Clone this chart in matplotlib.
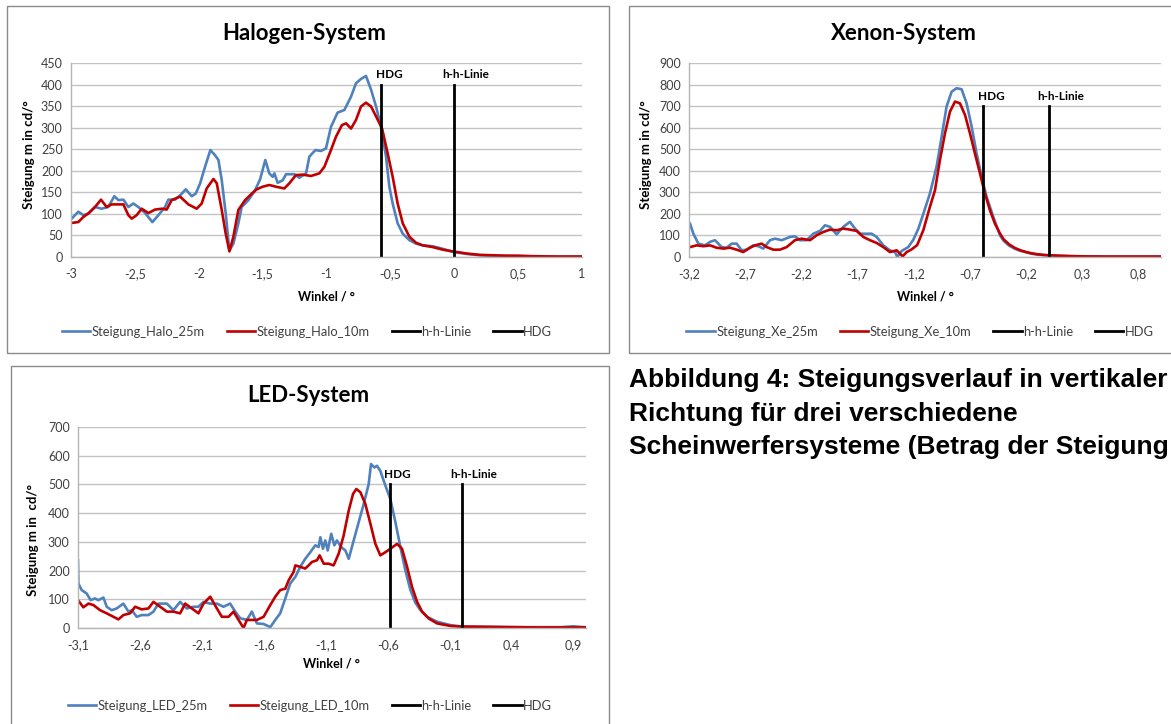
import matplotlib
matplotlib.use('Agg')
import matplotlib.pyplot as plt
from matplotlib.patches import Rectangle

# ---------------- data ----------------
HALO_25_X = [-2.995, -2.943, -2.903, -2.864, -2.812, -2.760, -2.708, -2.661, -2.629, -2.590,
             -2.551, -2.512, -2.473, -2.420, -2.363, -2.316, -2.264, -2.238, -2.186, -2.146,
             -2.102, -2.055, -2.024, -1.990, -1.951, -1.909, -1.872, -1.846, -1.820, -1.789,
             -1.760, -1.729, -1.690, -1.664, -1.611, -1.559, -1.520, -1.479, -1.448, -1.421,
             -1.408, -1.382, -1.343, -1.317, -1.252, -1.213, -1.160, -1.134, -1.087, -1.043,
             -1.004, -0.965, -0.913, -0.860, -0.808, -0.769, -0.730, -0.691, -0.651, -0.612,
             -0.573, -0.534, -0.508, -0.482, -0.443, -0.403, -0.351, -0.299, -0.247, -0.169,
             -0.090, -0.012, 0.1, 0.2, 0.3, 0.5, 0.7, 1.0]
HALO_25_Y = [89, 105, 97, 101, 116, 112, 116, 141, 132, 133,
             116, 124, 116, 102, 81, 97, 116, 133, 133, 143,
             157, 141, 147, 170, 209, 248, 236, 225, 178, 101,
             15, 31, 78, 116, 132, 155, 180, 225, 194, 186,
             194, 172, 178, 192, 192, 184, 194, 233, 248, 246,
             252, 302, 335, 341, 372, 403, 413, 420, 388, 349,
             302, 233, 163, 124, 78, 54, 39, 31, 27, 25,
             19, 12, 7, 4, 3, 2, 1, 1]

HALO_10_X = [-2.995, -2.943, -2.903, -2.864, -2.812, -2.765, -2.721, -2.682, -2.629, -2.590,
             -2.551, -2.525, -2.486, -2.447, -2.394, -2.342, -2.290, -2.251, -2.212, -2.146,
             -2.081, -2.016, -1.977, -1.938, -1.885, -1.859, -1.820, -1.789, -1.760, -1.729,
             -1.690, -1.637, -1.585, -1.546, -1.500, -1.448, -1.395, -1.330, -1.291, -1.239,
             -1.187, -1.121, -1.056, -1.017, -0.965, -0.926, -0.879, -0.847, -0.808, -0.769,
             -0.730, -0.691, -0.651, -0.612, -0.565, -0.521, -0.482, -0.443, -0.403, -0.351,
             -0.299, -0.247, -0.169, -0.090, -0.012, 0.1, 0.2, 0.3, 0.4, 0.5,
             0.6, 0.8, 1.0]
HALO_10_Y = [79, 81, 93, 101, 116, 133, 116, 122, 122, 122,
             97, 89, 97, 112, 102, 110, 112, 110, 132, 140,
             122, 112, 124, 159, 181, 171, 109, 54, 13, 47,
             109, 132, 147, 157, 163, 167, 163, 159, 171, 190,
             191, 188, 194, 209, 248, 279, 306, 310, 298, 318,
             349, 358, 349, 326, 298, 240, 186, 124, 78, 47,
             33, 27, 23, 17, 13, 8, 5, 4, 3, 3,
             2, 1, 1]

XE_25_X = [-3.191, -3.161, -3.117, -3.058, -3.013, -2.969, -2.909, -2.865, -2.820, -2.776,
           -2.731, -2.687, -2.628, -2.583, -2.539, -2.479, -2.435, -2.375, -2.301, -2.257,
           -2.212, -2.153, -2.094, -2.034, -1.990, -1.945, -1.886, -1.827, -1.768, -1.723,
           -1.679, -1.619, -1.575, -1.530, -1.471, -1.412, -1.367, -1.346, -1.308, -1.249,
           -1.204, -1.160, -1.115, -1.056, -0.997, -0.952, -0.908, -0.863, -0.819, -0.774,
           -0.730, -0.685, -0.641, -0.596, -0.552, -0.492, -0.433, -0.40, -0.35, -0.30,
           -0.25, -0.20, -0.15, -0.10, -0.05, 0.0, 0.1, 0.2, 0.3, 0.5,
           0.8, 1.0]
XE_25_Y = [155, 108, 62, 54, 70, 78, 46, 43, 62, 62,
           31, 34, 54, 50, 39, 78, 85, 78, 93, 96,
           78, 78, 108, 121, 147, 140, 105, 140, 163, 132,
           108, 108, 108, 93, 54, 31, 23, 0, 28, 46,
           80, 130, 200, 295, 419, 558, 698, 767, 783, 778,
           713, 605, 481, 372, 279, 186, 101, 75, 52, 38,
           28, 22, 15, 11, 9, 7, 5, 4, 3, 2,
           2, 2]

XE_10_X = [-3.191, -3.132, -3.072, -3.013, -2.954, -2.894, -2.835, -2.776, -2.717, -2.657,
           -2.613, -2.553, -2.509, -2.450, -2.390, -2.331, -2.257, -2.198, -2.123, -2.064,
           -2.005, -1.945, -1.886, -1.827, -1.768, -1.708, -1.649, -1.590, -1.530, -1.471,
           -1.412, -1.352, -1.299, -1.263, -1.22, -1.17, -1.115, -1.056, -1.011, -0.967,
           -0.922, -0.878, -0.833, -0.789, -0.744, -0.700, -0.656, -0.611, -0.567, -0.522,
           -0.478, -0.433, -0.40, -0.35, -0.30, -0.25, -0.20, -0.15, -0.10, -0.05,
           0.0, 0.1, 0.2, 0.3, 0.5, 0.7, 1.0]
XE_10_Y = [46, 54, 50, 54, 43, 39, 43, 34, 23, 43,
           54, 62, 46, 34, 34, 46, 78, 85, 78, 101,
           116, 127, 124, 132, 127, 121, 93, 78, 65, 46,
           23, 31, 3, 23, 35, 55, 124, 233, 310, 450,
           574, 674, 721, 713, 659, 574, 481, 388, 295, 217,
           155, 109, 82, 58, 42, 31, 23, 17, 13, 10,
           8, 6, 4, 3, 2, 2, 2]

LED_25_X = [-3.10, -3.097, -3.070, -3.030, -2.998, -2.963, -2.936, -2.895, -2.868, -2.828,
            -2.788, -2.734, -2.693, -2.666, -2.626, -2.586, -2.532, -2.491, -2.451, -2.383,
            -2.330, -2.276, -2.222, -2.168, -2.128, -2.087, -2.033, -1.979, -1.926, -1.872,
            -1.831, -1.791, -1.737, -1.697, -1.656, -1.602, -1.548, -1.508, -1.468, -1.427,
            -1.387, -1.346, -1.306, -1.266, -1.225, -1.185, -1.158, -1.144, -1.123, -1.104,
            -1.085, -1.056, -1.031, -1.010, -0.977, -0.942, -0.915, -0.875, -0.835, -0.794,
            -0.754, -0.735, -0.708, -0.687, -0.660, -0.619, -0.579, -0.538, -0.498, -0.458,
            -0.417, -0.377, -0.336, -0.282, -0.202, -0.094, 0.0, 0.2, 0.4, 0.6,
            0.8, 0.9, 0.95, 1.0]
LED_25_Y = [236, 155, 132, 120, 97, 103, 97, 106, 74, 62,
            68, 85, 57, 62, 39, 45, 45, 57, 85, 85,
            62, 91, 68, 74, 74, 91, 85, 85, 74, 85,
            57, 34, 28, 57, 16, 14, 3, 28, 51, 103,
            155, 178, 213, 241, 264, 288, 282, 316, 276, 305,
            270, 328, 288, 305, 282, 270, 241, 305, 368, 432,
            501, 571, 559, 565, 547, 496, 449, 368, 282, 201,
            132, 88, 62, 39, 22, 10, 5, 4, 3, 3,
            3, 6, 4, 3]

LED_10_X = [-3.10, -3.057, -3.016, -2.976, -2.922, -2.868, -2.814, -2.774, -2.734, -2.680,
            -2.639, -2.586, -2.532, -2.491, -2.437, -2.383, -2.330, -2.276, -2.235, -2.181,
            -2.128, -2.087, -2.033, -1.979, -1.939, -1.885, -1.845, -1.804, -1.764, -1.737,
            -1.656, -1.602, -1.548, -1.508, -1.468, -1.427, -1.400, -1.360, -1.346, -1.306,
            -1.266, -1.239, -1.212, -1.171, -1.150, -1.117, -1.077, -1.037, -0.996, -0.956,
            -0.915, -0.880, -0.854, -0.821, -0.781, -0.740, -0.700, -0.660, -0.619, -0.579,
            -0.525, -0.485, -0.444, -0.404, -0.363, -0.323, -0.269, -0.202, -0.094, 0.0,
            0.2, 0.4, 0.6, 0.8, 1.0]
LED_10_Y = [97, 72, 85, 80, 62, 51, 39, 30, 45, 51,
            74, 65, 68, 91, 74, 57, 57, 51, 85, 68,
            51, 85, 109, 68, 39, 39, 57, 28, 0, 28,
            28, 39, 80, 109, 132, 137, 166, 195, 218, 213,
            207, 218, 230, 236, 253, 224, 224, 218, 259, 322,
            409, 467, 484, 473, 432, 363, 293, 253, 264, 276,
            293, 276, 213, 143, 91, 57, 33, 16, 7, 5,
            4, 3, 2, 2, 2]

# marker lines (angle, height of drawn line)
HALO_HDG, HALO_HH, HALO_LINE_TOP = -0.57, 0.0, 400
XE_HDG, XE_HH, XE_LINE_TOP = -0.58, 0.0, 700
LED_HDG, LED_HH, LED_LINE_TOP = -0.58, 0.0, 500

HALO_XTICKS = [-3, -2.5, -2, -1.5, -1, -0.5, 0, 0.5, 1]
XE_XTICKS = [-3.2, -2.7, -2.2, -1.7, -1.2, -0.7, -0.2, 0.3, 0.8]
LED_XTICKS = [-3.1, -2.6, -2.1, -1.6, -1.1, -0.6, -0.1, 0.4, 0.9]
HALO_YTICKS = [0, 50, 100, 150, 200, 250, 300, 350, 400, 450]
XE_YTICKS = [0, 100, 200, 300, 400, 500, 600, 700, 800, 900]
LED_YTICKS = [0, 100, 200, 300, 400, 500, 600, 700]

HALO_LABELS = ['Steigung_Halo_25m', 'Steigung_Halo_10m', 'h-h-Linie', 'HDG']
XE_LABELS = ['Steigung_Xe_25m', 'Steigung_Xe_10m', 'h-h-Linie', 'HDG']
LED_LABELS = ['Steigung_LED_25m', 'Steigung_LED_10m', 'h-h-Linie', 'HDG']

CAPTION = ['Abbildung 4: Steigungsverlauf in vertikaler',
           'Richtung für drei verschiedene',
           'Scheinwerfersysteme (Betrag der Steigung']

# ---------------- styling ----------------
W, H = 1171, 724
BLUE = '#4F81BD'
RED = '#C00000'
GRID = '#c3c3c3'
TXT = '#404040'
FONT = 'Lato'

fig = plt.figure(figsize=(W / 100, H / 100), dpi=100)
fig.patch.set_facecolor('white')


def fx(px):
    return px / W


def fy(py):
    return 1 - py / H


def box(l, t, r, b):
    fig.add_artist(Rectangle((fx(l), fy(b)), fx(r) - fx(l), fy(t) - fy(b),
                             transform=fig.transFigure, fill=False,
                             ec='#8a8a8a', lw=1.0))


def fmt(v):
    s = ('%g' % v).replace('.', ',')
    return s


def panel(rect, xlim, xticks, yticks, x25, y25, x10, y10, hdg, hh, top,
          labels, title, title_xy, ylabel, ylabel_xy, xlabel_xy, leg_xy):
    l, t, r, b = rect
    ax = fig.add_axes([fx(l), fy(b), fx(r) - fx(l), fy(t) - fy(b)])
    ax.set_xlim(*xlim)
    ax.set_ylim(yticks[0], yticks[-1])
    ax.set_yticks(yticks)
    ax.set_yticklabels([fmt(v) for v in yticks])
    ax.set_xticks(xticks)
    ax.set_xticklabels([fmt(v) for v in xticks])
    ax.yaxis.grid(True, color=GRID, lw=1.0)
    ax.set_axisbelow(True)
    for s in ('top', 'right'):
        ax.spines[s].set_visible(False)
    for s in ('left', 'bottom'):
        ax.spines[s].set_color('#b5b5b5')
        ax.spines[s].set_linewidth(1.0)
    ax.tick_params(length=0, labelsize=9, labelcolor=TXT)
    ax.tick_params(axis='x', pad=8)
    ax.tick_params(axis='y', pad=6)
    for lab in ax.get_xticklabels() + ax.get_yticklabels():
        lab.set_family(FONT)

    l25, = ax.plot(x25, y25, color=BLUE, lw=1.9, solid_joinstyle='round')
    l10, = ax.plot(x10, y10, color=RED, lw=1.9, solid_joinstyle='round')
    lhh, = ax.plot([hh, hh], [0, top], color='black', lw=2.0)
    lhdg, = ax.plot([hdg, hdg], [0, top], color='black', lw=2.0)
    ax.annotate('HDG', xy=(hdg, top), xytext=(5.5, 7), textcoords='offset points',
                ha='center', va='center', fontsize=8.5, fontweight='bold',
                family=FONT, color='black')
    ax.annotate('h-h-Linie', xy=(hh, top), xytext=(8.5, 7), textcoords='offset points',
                ha='center', va='center', fontsize=8.5, fontweight='bold',
                family=FONT, color='black')

    fig.text(fx(title_xy[0]), fy(title_xy[1]), title, ha='center', va='center',
             fontsize=16, fontweight='bold', family=FONT, color='black')
    fig.text(fx(ylabel_xy[0]), fy(ylabel_xy[1]), ylabel, ha='center', va='center',
             rotation=90, fontsize=9.5, fontweight='bold', family=FONT, color='black')
    fig.text(fx(xlabel_xy[0]), fy(xlabel_xy[1]), 'Winkel / °', ha='center', va='center',
             fontsize=9, fontweight='bold', family=FONT, color='black')
    leg = fig.legend([l25, l10, lhh, lhdg], labels, loc='center',
                     bbox_to_anchor=(fx(leg_xy[0]), fy(leg_xy[1])), ncol=4,
                     frameon=False, handlelength=2.2, handletextpad=0.1,
                     columnspacing=1.7, prop={'family': FONT, 'size': 9.3})
    for txt in leg.get_texts():
        txt.set_color(TXT)
    return ax


# chart boxes
box(7, 6, 609, 353)
box(629, 6, 1180, 353)
box(11, 366, 609, 740)

panel((71, 63, 582, 257), (-3, 1), HALO_XTICKS, HALO_YTICKS,
      HALO_25_X, HALO_25_Y, HALO_10_X, HALO_10_Y, HALO_HDG, HALO_HH, HALO_LINE_TOP,
      HALO_LABELS, 'Halogen-System', (304, 33), 'Steigung m in cd/°', (29, 155),
      (326, 296), (307, 332))

panel((689, 63, 1161, 257), (-3.2, 1.0), XE_XTICKS, XE_YTICKS,
      XE_25_X, XE_25_Y, XE_10_X, XE_10_Y, XE_HDG, XE_HH, XE_LINE_TOP,
      XE_LABELS, 'Xenon-System', (904, 33), 'Steigung m in cd/°', (646, 155),
      (925, 296), (920, 332))

panel((78, 427, 586, 628), (-3.1, 1.0), LED_XTICKS, LED_YTICKS,
      LED_25_X, LED_25_Y, LED_10_X, LED_10_Y, LED_HDG, LED_HH, LED_LINE_TOP,
      LED_LABELS, 'LED-System', (308, 395), 'Steigung m in  cd/°', (33, 540),
      (331, 663), (310, 706))

for i, line in enumerate(CAPTION):
    fig.text(fx(629), fy(387 + 33.5 * i), line, ha='left', va='baseline',
             fontsize=19, fontweight='bold', family='Liberation Sans', color='black')

fig.savefig('out.png', dpi=100)
